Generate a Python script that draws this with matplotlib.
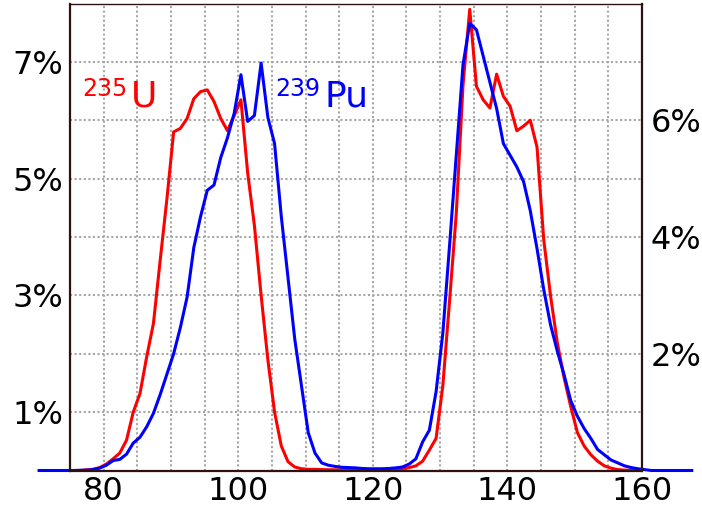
import matplotlib.pyplot as plt
import numpy as np

# fission product yield (%) per mass number A
mass_u235 = np.arange(75, 161)
yield_u235 = [0.0, 0.0, 0.01, 0.02, 0.05,
              0.11, 0.2, 0.3, 0.52, 1.0, 1.32, 1.95, 2.52, 3.6, 4.65,
              5.8, 5.86, 6.03, 6.37, 6.49, 6.52, 6.32, 6.03, 5.82, 6.08,
              6.35, 5.1, 4.2, 3.0, 1.9, 1.0, 0.42, 0.15, 0.06, 0.03,
              0.02, 0.02, 0.015, 0.013, 0.012, 0.012, 0.012, 0.012, 0.012, 0.013,
              0.013, 0.015, 0.016, 0.02, 0.03, 0.05, 0.08, 0.16, 0.35, 0.55,
              1.45, 2.9, 4.4, 6.6, 7.9, 6.58, 6.35, 6.21, 6.79, 6.41,
              6.24, 5.82, 5.9, 6.0, 5.54, 3.95, 3.0, 2.2, 1.6, 1.1,
              0.65, 0.42, 0.27, 0.16, 0.08, 0.04, 0.015, 0.007, 0.003, 0.001, 0.0]

mass_pu239 = np.arange(70, 168)
yield_pu239 = [0, 0, 0, 0, 0, 0, 0.003, 0.006, 0.015, 0.04,
               0.09, 0.17, 0.19, 0.28, 0.47, 0.57, 0.75, 0.98, 1.3, 1.65,
               2.0, 2.45, 2.97, 3.82, 4.35, 4.8, 4.89, 5.36, 5.7, 6.12,
               6.78, 5.98, 6.08, 6.98, 6.05, 5.6, 4.35, 3.3, 2.25, 1.45,
               0.65, 0.3, 0.13, 0.09, 0.07, 0.055, 0.05, 0.045, 0.035, 0.03,
               0.03, 0.03, 0.035, 0.045, 0.06, 0.11, 0.2, 0.49, 0.69, 1.35,
               2.35, 3.85, 5.4, 6.95, 7.66, 7.55, 7.1, 6.65, 6.2, 5.6,
               5.4, 5.2, 4.95, 4.45, 3.8, 3.1, 2.5, 2.05, 1.65, 1.2,
               0.93, 0.72, 0.55, 0.36, 0.27, 0.18, 0.13, 0.08, 0.05, 0.03,
               0.015, 0, 0, 0, 0, 0, 0, 0]

x_ticks = [80, 100, 120, 140, 160]
left_ticks = [1, 3, 5, 7]
right_ticks = [2, 4, 6]

# in the original the points sit a bit right of the integer mass numbers
x_shift = 0.4

spine_col = "#2e1010"
grid_col = "#a6a6a6"

fig = plt.figure(figsize=(7.02, 5.12), dpi=100)
ax = fig.add_axes([70/702, 41.5/512, 572/702, 467/512])

ax.plot(mass_u235 + x_shift, yield_u235, color="#ff0000", lw=2.2)
ax.plot(mass_pu239 + x_shift, yield_pu239, color="#0000ff", lw=2.2, clip_on=False)

ax.set_xlim(75, 160)
ax.set_ylim(0, 8)

# dotted grid every 5 in A and every 1%
for gx in range(80, 160, 5):
    ax.axvline(gx, color=grid_col, lw=1.5, ls=(0, (1, 1.2)), zorder=0)
for gy in range(1, 8):
    ax.axhline(gy, color=grid_col, lw=1.5, ls=(0, (1, 1.2)), zorder=0)

ax.set_xticks(x_ticks)
ax.set_xticklabels([str(t) for t in x_ticks])
ax.set_yticks(left_ticks)
ax.set_yticklabels([f"{t}%" for t in left_ticks])
ax.tick_params(length=0, labelsize=23, pad=5)
ax.tick_params(axis="x", pad=4)

sec = ax.secondary_yaxis("right")
sec.set_yticks(right_ticks)
sec.set_yticklabels([f"{t}%" for t in right_ticks])
sec.tick_params(length=0, labelsize=23, pad=6)
sec.spines["right"].set_visible(False)

for side in ["left", "bottom", "right"]:
    ax.spines[side].set_color(spine_col)
    ax.spines[side].set_linewidth(1.6)
ax.spines["top"].set_color(spine_col)
ax.spines["top"].set_linewidth(1.0)

# labels
ax.text(76.85, 6.41, "235", color="#ff0000", fontsize=17, va="baseline")
ax.text(84.0, 6.24, "U", color="#ff0000", fontsize=26, va="baseline")
ax.text(105.5, 6.41, "239", color="#0000ff", fontsize=17, va="baseline")
ax.text(112.8, 6.24, "Pu", color="#0000ff", fontsize=26, va="baseline")

plt.savefig("out.png", dpi=100)
